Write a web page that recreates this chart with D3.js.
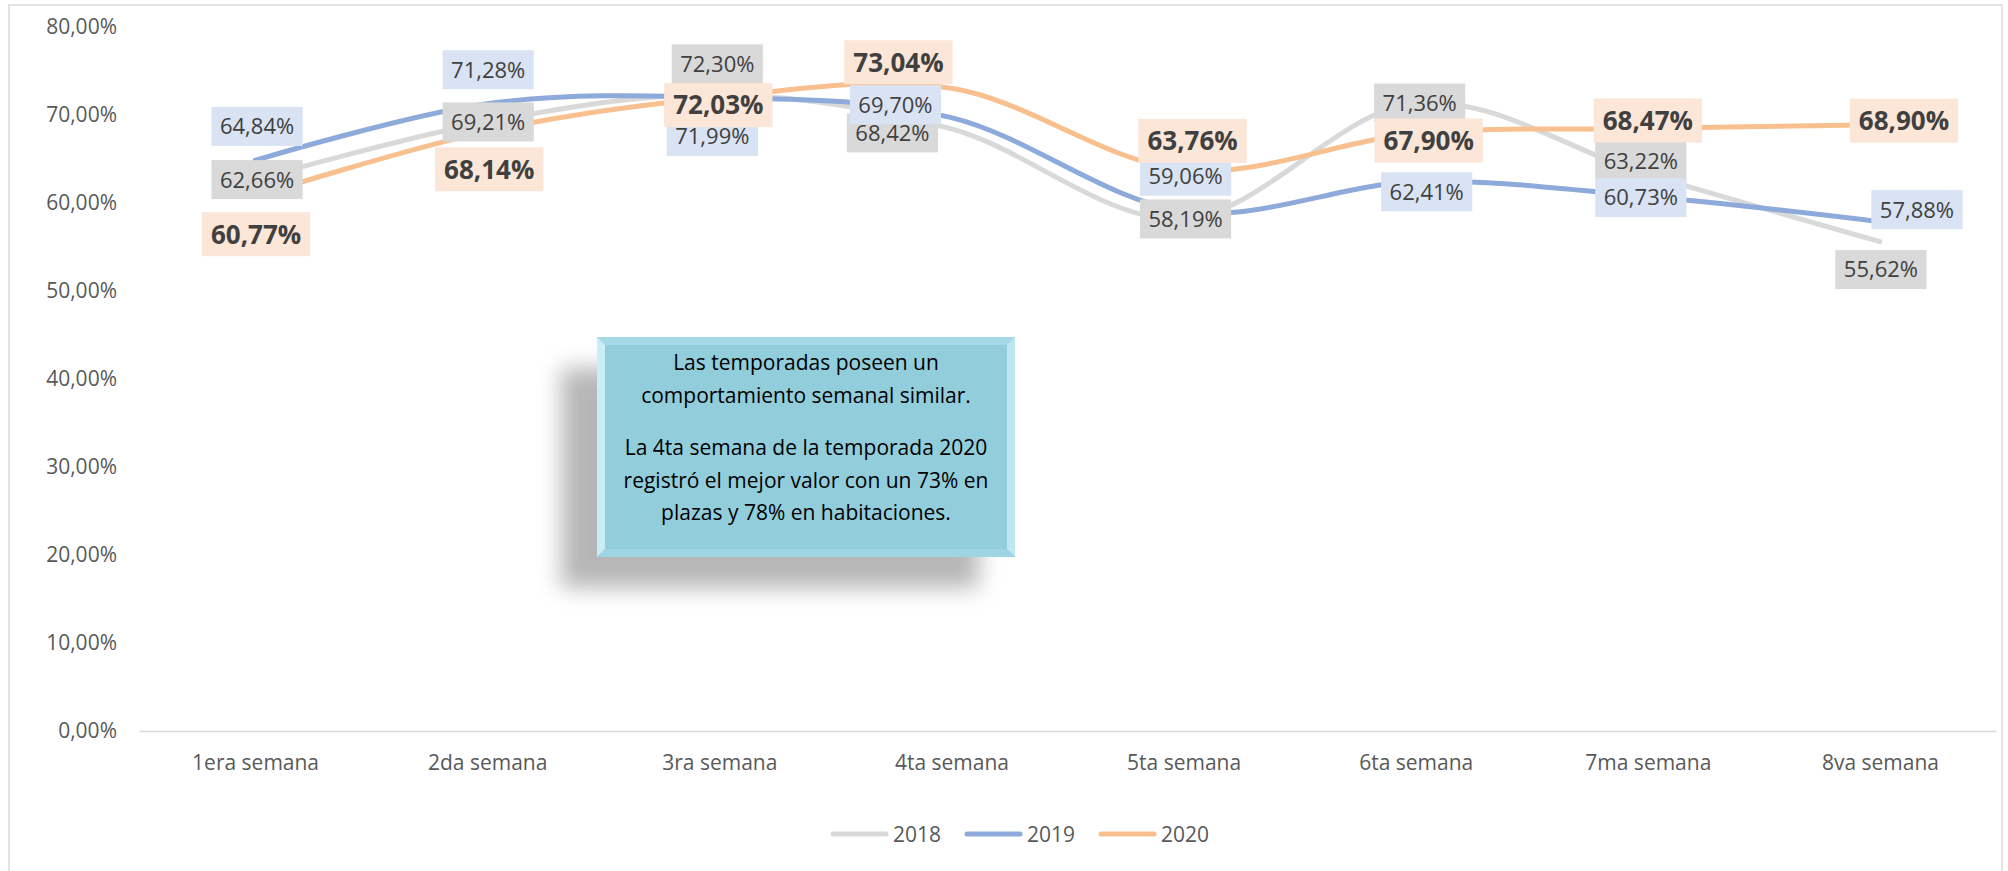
<!DOCTYPE html>
<html>
<head>
<meta charset="utf-8">
<script src="https://cdn.jsdelivr.net/npm/d3@7"></script>
<style>
  body { margin: 0; background: #fff; }
  text { font-family: "Open Sans", "Noto Sans", sans-serif; }
</style>
</head>
<body>
<div id="chart"></div>
<script>
// data
const weeks = ["1era semana", "2da semana", "3ra semana", "4ta semana", "5ta semana", "6ta semana", "7ma semana", "8va semana"];
const years = ["2018", "2019", "2020"];
const values2018 = [62.66, 69.21, 72.30, 68.42, 58.19, 71.36, 63.22, 55.62];
const values2019 = [64.84, 71.28, 71.99, 69.70, 59.06, 62.41, 60.73, 57.88];
const values2020 = [60.77, 68.14, 72.03, 73.04, 63.76, 67.90, 68.47, 68.90];
const yTicks = [0, 10, 20, 30, 40, 50, 60, 70, 80];
const noteLines1 = ["Las temporadas poseen un", "comportamiento semanal similar."];
const noteLines2 = ["La 4ta semana de la temporada 2020", "registró el mejor valor con un 73% en", "plazas y 78% en habitaciones."];

const drawChart = () => {

  /*******************************/
  /*    Declare the constants    */
  /*******************************/
  const width = 2008;
  const height = 871;
  const xLeft = 139, xRight = 1996;
  const yTop = 27, yBottom = 731;

  const lineColors = {"2018": "#d9d9d9", "2019": "#8eaadb", "2020": "#f9c08f"};
  const boxColors = {"2018": "#d9d9d9", "2019": "#dae3f3", "2020": "#fce6d7"};
  const seriesValues = {"2018": values2018, "2019": values2019, "2020": values2020};

  // manual label placement (dx, dy from the point), like the dragged labels in the original
  const labelShift = {
    "2018": [[2, 0], [1, 0], [-2, -31], [-59, 4], [2, 0], [4, 0], [-7, -14], [1, 28]],
    "2019": [[2, -34], [1, -34], [-7, 39], [-56, -13], [2, -35], [11, 10], [-7, 1], [37, -12]],
    "2020": [[1, 38], [2, 38], [-1, 8], [-53, -26], [9, -29], [13, 7], [0, -8], [24, -4]]
  };

  const svg = d3.select("#chart")
    .append("svg")
      .attr("width", width)
      .attr("height", height);

  // frame
  svg.append("rect")
    .attr("x", 9).attr("y", 5)
    .attr("width", 1993).attr("height", 880)
    .attr("fill", "none")
    .attr("stroke", "#d9d9d9")
    .attr("stroke-width", 1.5);

  /*******************************/
  /*    Scales and axes          */
  /*******************************/
  const xScale = d3.scalePoint()
    .domain(weeks)
    .range([xLeft, xRight])
    .padding(0.5);

  const yScale = d3.scaleLinear()
    .domain([0, 80])
    .range([yBottom, yTop]);

  const pct = d => d3.format(".2f")(d).replace(".", ",") + "%";

  const leftAxis = d3.axisLeft(yScale)
    .tickValues(yTicks)
    .tickFormat(pct)
    .tickSize(0)
    .tickPadding(22);
  const gy = svg.append("g")
    .attr("transform", `translate(${xLeft}, 0)`)
    .call(leftAxis);
  gy.select(".domain").remove();
  gy.selectAll("text")
    .attr("font-size", 21)
    .attr("fill", "#595959")
    .style("font-family", "'Open Sans', sans-serif");

  const bottomAxis = d3.axisBottom(xScale)
    .tickSize(0)
    .tickSizeOuter(0)
    .tickPadding(24);
  const gx = svg.append("g")
    .attr("transform", `translate(0, ${yBottom})`)
    .call(bottomAxis);
  gx.select(".domain")
    .attr("stroke", "#d9d9d9")
    .attr("stroke-width", 1.5);
  gx.selectAll("text")
    .attr("font-size", 21)
    .attr("fill", "#595959")
    .style("font-family", "'Open Sans', sans-serif");

  /*******************************/
  /*    Callout box              */
  /*******************************/
  const defs = svg.append("defs");
  defs.append("filter")
      .attr("id", "blur")
      .attr("x", "-20%").attr("y", "-20%")
      .attr("width", "140%").attr("height", "140%")
    .append("feGaussianBlur")
      .attr("stdDeviation", 11);

  const note = {x: 597, y: 337, w: 418, h: 220};
  svg.append("rect")
    .attr("x", note.x - 36).attr("y", note.y + 31)
    .attr("width", note.w).attr("height", note.h)
    .attr("fill", "#8a8a8a")
    .attr("opacity", 0.62)
    .attr("filter", "url(#blur)");

  const noteG = svg.append("g");
  noteG.append("rect")
    .attr("x", note.x).attr("y", note.y)
    .attr("width", note.w).attr("height", note.h)
    .attr("fill", "#92cddc");
  // bevel edges
  const b = 8;
  const x0 = note.x, y0 = note.y, x1 = note.x + note.w, y1 = note.y + note.h;
  const bevels = [
    {pts: [[x0, y0], [x1, y0], [x1 - b, y0 + b], [x0 + b, y0 + b]], fill: "#a6d9e6"},
    {pts: [[x0, y0], [x0 + b, y0 + b], [x0 + b, y1 - b], [x0, y1]], fill: "#c9eef6"},
    {pts: [[x1, y0], [x1, y1], [x1 - b, y1 - b], [x1 - b, y0 + b]], fill: "#bde8f1"},
    {pts: [[x0, y1], [x0 + b, y1 - b], [x1 - b, y1 - b], [x1, y1]], fill: "#9fd5e2"}
  ];
  noteG.selectAll("polygon")
    .data(bevels)
    .join("polygon")
      .attr("points", d => d.pts.map(p => p.join(",")).join(" "))
      .attr("fill", d => d.fill);

  const noteCx = note.x + note.w / 2;
  const noteText = noteG.append("text")
    .attr("text-anchor", "middle")
    .attr("font-size", 21)
    .attr("fill", "#000");
  noteLines1.forEach((t, i) => {
    noteText.append("tspan").attr("x", noteCx).attr("y", 370 + i * 32.7).text(t);
  });
  noteLines2.forEach((t, i) => {
    noteText.append("tspan").attr("x", noteCx).attr("y", 455 + i * 32.7).text(t);
  });

  /*******************************/
  /*    Lines                    */
  /*******************************/
  const line = d3.line()
    .x((d, i) => xScale(weeks[i]))
    .y(d => yScale(d))
    .curve(d3.curveCardinal.tension(0));

  years.forEach(year => {
    svg.append("path")
      .attr("d", line(seriesValues[year]))
      .attr("fill", "none")
      .attr("stroke", lineColors[year])
      .attr("stroke-width", 5)
      .attr("stroke-linecap", "round")
      .attr("stroke-linejoin", "round");
  });

  /*******************************/
  /*    Data labels              */
  /*******************************/
  years.forEach(year => {
    const bold = year === "2020";
    const fontSize = bold ? 26 : 22;
    const padX = bold ? 9 : 8.5;
    const boxH = bold ? 44 : 39;

    seriesValues[year].forEach((v, i) => {
      const cx = xScale(weeks[i]) + labelShift[year][i][0];
      const cy = yScale(v) + labelShift[year][i][1];
      const g = svg.append("g");
      const rect = g.append("rect").attr("fill", boxColors[year]);
      const txt = g.append("text")
        .attr("x", cx)
        .attr("y", cy)
        .attr("dy", "0.36em")
        .attr("text-anchor", "middle")
        .attr("font-size", fontSize)
        .attr("font-weight", bold ? 700 : 400)
        .attr("fill", "#404040")
        .text(pct(v));
      const w = txt.node().getComputedTextLength() + padX * 2;
      rect
        .attr("x", cx - w / 2)
        .attr("y", cy - boxH / 2)
        .attr("width", w)
        .attr("height", boxH);
    });
  });

  /*******************************/
  /*    Legend                   */
  /*******************************/
  const legend = svg.append("g").attr("transform", "translate(831, 834)");
  let lx = 0;
  years.forEach(year => {
    legend.append("line")
      .attr("x1", lx + 2).attr("x2", lx + 55)
      .attr("y1", 0).attr("y2", 0)
      .attr("stroke", lineColors[year])
      .attr("stroke-width", 5)
      .attr("stroke-linecap", "round");
    const t = legend.append("text")
      .attr("x", lx + 62)
      .attr("y", 0)
      .attr("dy", "0.36em")
      .attr("font-size", 21)
      .attr("fill", "#595959")
      .text(year);
    lx += 62 + t.node().getComputedTextLength() + 24;
  });
};

drawChart();
</script>
</body>
</html>
